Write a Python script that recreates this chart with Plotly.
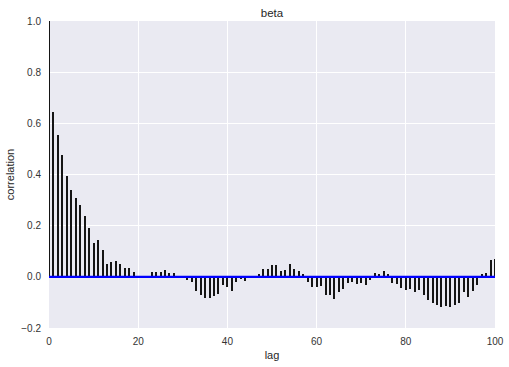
import plotly.graph_objects as go

lags = list(range(0, 101))
acf = [
    1.0, 0.646, 0.553, 0.478, 0.396, 0.338, 0.307, 0.279, 0.236, 0.189,
    0.131, 0.143, 0.104, 0.049, 0.057, 0.061, 0.049, 0.033, 0.033, 0.018,
    -0.004, -0.004, 0.001, 0.018, 0.018, 0.018, 0.026, 0.014, 0.014, -0.004,
    -0.004, -0.013, -0.021, -0.056, -0.072, -0.083, -0.083, -0.076, -0.068, -0.033,
    -0.040, -0.056, -0.021, -0.009, -0.017, -0.004, -0.003, 0.010, 0.030, 0.030,
    0.046, 0.046, 0.022, 0.026, 0.049, 0.030, 0.022, 0.010, -0.021, -0.040,
    -0.040, -0.036, -0.072, -0.072, -0.087, -0.060, -0.048, -0.025, -0.021, -0.029,
    -0.025, -0.033, -0.013, 0.014, 0.010, 0.022, 0.010, -0.025, -0.029, -0.044,
    -0.052, -0.048, -0.060, -0.052, -0.072, -0.091, -0.103, -0.111, -0.118, -0.115,
    -0.118, -0.111, -0.103, -0.060, -0.079, -0.056, -0.033, 0.010, 0.014, 0.065,
    0.069,
]
x_ticks = [0, 20, 40, 60, 80, 100]
y_ticks = [-0.2, 0.0, 0.2, 0.4, 0.6, 0.8, 1.0]
y_tick_text = ["\u22120.2", "0.0", "0.2", "0.4", "0.6", "0.8", "1.0"]

fig = go.Figure()
fig.add_trace(go.Bar(
    x=lags, y=acf, width=0.45,
    marker=dict(color="#151515", line=dict(width=0)),
    showlegend=False, hoverinfo="x+y",
))
fig.add_trace(go.Scatter(
    x=[0, 100], y=[0, 0], mode="lines",
    line=dict(color="#0000ff", width=2.2),
    showlegend=False, hoverinfo="skip",
))

font = "Liberation Sans, Arial, sans-serif"
fig.update_layout(
    width=509, height=367,
    margin=dict(l=49, r=14, t=21, b=39),
    paper_bgcolor="white", plot_bgcolor="#EAEAF2",
    font=dict(family=font, size=10, color="#262626"),
    title=dict(text="beta", x=0.5, xanchor="center", xref="paper", y=1 - 12.5 / 367, yanchor="middle",
               font=dict(size=11.5, family=font, color="#262626")),
    bargap=0,
    xaxis=dict(range=[0, 100], tickvals=x_ticks, showgrid=True, gridcolor="white", gridwidth=1,
               zeroline=False, showline=False, ticks="outside", ticklen=4,
               tickcolor="rgba(0,0,0,0)", automargin=False,
               title=dict(text="lag", font=dict(size=11, family=font, color="#262626"), standoff=5),
               tickfont=dict(size=10, color="#333333")),
    yaxis=dict(range=[-0.2, 1.0], tickvals=y_ticks, ticktext=y_tick_text, showgrid=True,
               gridcolor="white", gridwidth=1, zeroline=False, showline=False,
               ticks="outside", ticklen=5, tickcolor="rgba(0,0,0,0)", automargin=False,
               title=dict(text="correlation", font=dict(size=11, family=font, color="#262626"), standoff=4),
               tickfont=dict(size=10, color="#333333")),
)

fig.write_html("out.html", config={"displayModeBar": False},
               post_script="document.body.style.margin='0';document.body.style.overflow='hidden';")
